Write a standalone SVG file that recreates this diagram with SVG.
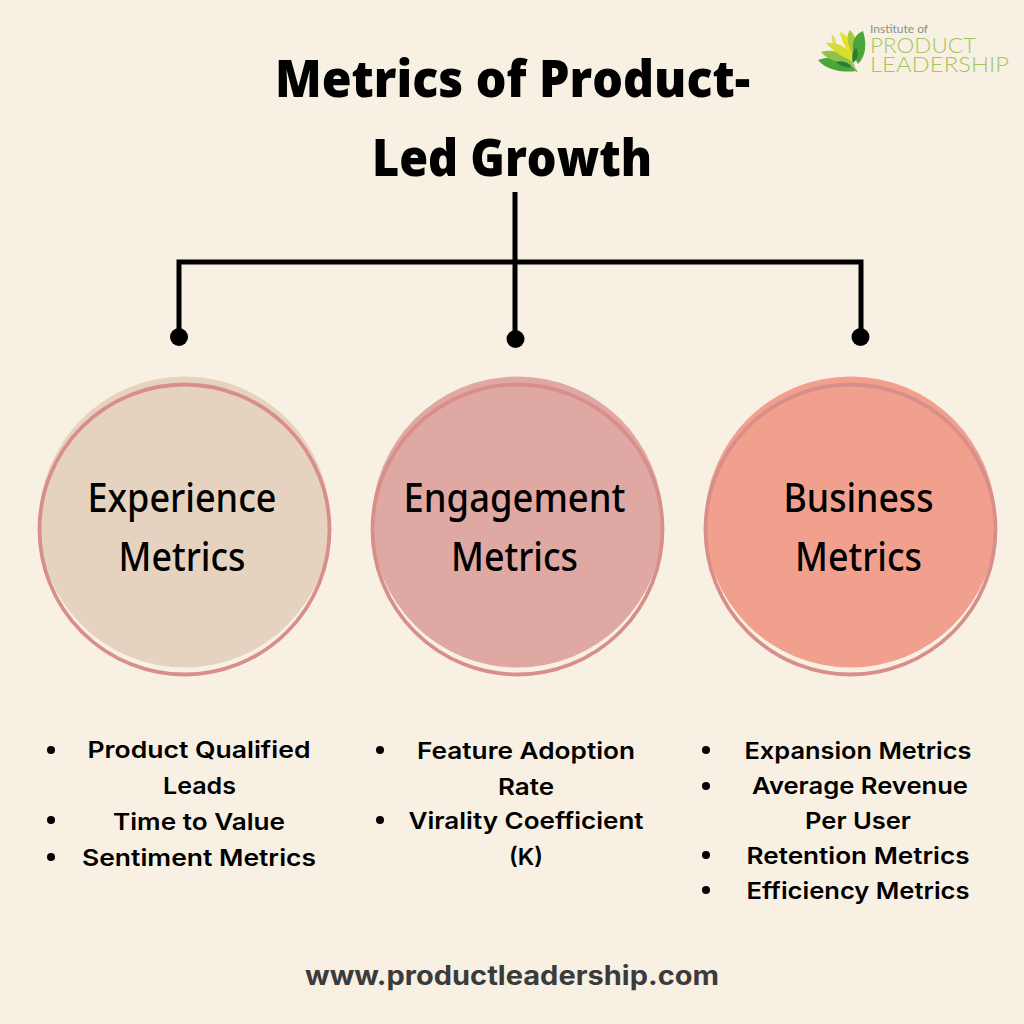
<svg xmlns="http://www.w3.org/2000/svg" width="1024" height="1024" viewBox="0 0 1024 1024">
<style>
text{text-anchor:middle}
.t{font:800 52px "Open Sans",sans-serif;fill:#000}
.h{font:500 39px "Noto Sans",sans-serif;fill:#000}
.b{font:600 23.500px "Inter",sans-serif;fill:#000}
.u{font:700 26.500px "Inter",sans-serif;fill:#3b3b3b}
.ring{fill:none;stroke:#d98f89;stroke-width:3.800}
.line{fill:none;stroke:#000;stroke-width:5}
.dot{fill:#000}
.bul{fill:#000}
.l1{font:400 12px "Lato",sans-serif;fill:#7f9488;text-anchor:start}
.l2{font:300 22px "Lato",sans-serif;fill:#a3c65c;text-anchor:start}
</style>
<rect width="1024" height="1024" fill="#f8f0e3"/>
<g id="title">
<text class="t" x="512.500" y="97" textLength="475" lengthAdjust="spacingAndGlyphs">Metrics of Product-</text>
<text class="t" x="512" y="176" textLength="280" lengthAdjust="spacingAndGlyphs">Led Growth</text>
</g>
<g id="logo">
<path d="M856 71C842 73 826 70 818 60C832 55 848 58 856 71Z" fill="#4aa63a"/>
<path d="M855 66C842 64 827 60 821 52C834 48 848 54 855 66Z" fill="#8fc24a"/>
<path d="M854 62C843 58 832 50 826 43C838 41 850 48 854 62Z" fill="#d8dc2e"/>
<path d="M835 46C832 42 831 38 832 35C835 37 837 41 835 46Z" fill="#d9dc5a"/>
<path d="M853 58C846 50 841 40 840 32C849 35 855 46 853 58Z" fill="#e6e02a"/>
<path d="M856 60C848 48 845 36 850 30C857 37 860 50 856 60Z" fill="#a9c940"/>
<path d="M858 64C850 50 851 36 863 31C867 44 866 56 858 64Z" fill="#4aa63a"/>
<path d="M852 67C846 68 840 66 836 62C842 60 848 62 852 67Z" fill="#2b7d33"/>
<path d="M853 63C851 55 853 50 856 48C859 53 858 59 853 63Z" fill="#2b7d33"/>
<path d="M853 66L857 72" stroke="#8fb84a" stroke-width="1.500"/>
<text class="l1" x="870" y="33" textLength="58" lengthAdjust="spacingAndGlyphs">Institute of</text>
<text class="l2" x="870" y="53" textLength="106" lengthAdjust="spacingAndGlyphs">PRODUCT</text>
<text class="l2" x="870" y="71.500" textLength="139" lengthAdjust="spacingAndGlyphs">LEADERSHIP</text>
</g>
<g id="connectors">
<path class="line" d="M515 192V337M179 337V262H861V337"/>
<circle class="dot" cx="179" cy="337" r="9"/>
<circle class="dot" cx="515.500" cy="339" r="9"/>
<circle class="dot" cx="860.500" cy="337" r="9"/>
</g>
<g id="experience">
<circle cx="184.500" cy="522" r="145.500" fill="#e5d3bf"/>
<circle class="ring" cx="184.500" cy="529.500" r="145"/>
<text class="h" x="182" y="512" textLength="189" lengthAdjust="spacingAndGlyphs">Experience</text>
<text class="h" x="182" y="571" textLength="127" lengthAdjust="spacingAndGlyphs">Metrics</text>
</g>
<g id="engagement">
<circle cx="517.500" cy="522" r="145.500" fill="#dfa8a3"/>
<circle class="ring" cx="517.500" cy="529.500" r="145"/>
<text class="h" x="514.500" y="512" textLength="222" lengthAdjust="spacingAndGlyphs">Engagement</text>
<text class="h" x="514.500" y="571" textLength="127" lengthAdjust="spacingAndGlyphs">Metrics</text>
</g>
<g id="business">
<circle cx="850.500" cy="522" r="145.500" fill="#f2a08e"/>
<circle class="ring" cx="850.500" cy="529.500" r="145"/>
<text class="h" x="858.500" y="512" textLength="150" lengthAdjust="spacingAndGlyphs">Business</text>
<text class="h" x="858.500" y="571" textLength="127" lengthAdjust="spacingAndGlyphs">Metrics</text>
</g>
<g id="list-experience">
<circle class="bul" cx="51" cy="750" r="4"/>
<circle class="bul" cx="51" cy="820" r="4"/>
<circle class="bul" cx="51" cy="857" r="4"/>
<text class="b" x="199" y="758" textLength="223" lengthAdjust="spacingAndGlyphs">Product Qualified</text>
<text class="b" x="199.500" y="794" textLength="73" lengthAdjust="spacingAndGlyphs">Leads</text>
<text class="b" x="199" y="830" textLength="172" lengthAdjust="spacingAndGlyphs">Time to Value</text>
<text class="b" x="199" y="866" textLength="234" lengthAdjust="spacingAndGlyphs">Sentiment Metrics</text>
</g>
<g id="list-engagement">
<circle class="bul" cx="380" cy="750" r="4"/>
<circle class="bul" cx="380" cy="820" r="4"/>
<text class="b" x="526" y="759" textLength="218" lengthAdjust="spacingAndGlyphs">Feature Adoption</text>
<text class="b" x="526" y="795" textLength="56" lengthAdjust="spacingAndGlyphs">Rate</text>
<text class="b" x="526" y="829" textLength="235" lengthAdjust="spacingAndGlyphs">Virality Coefficient</text>
<text class="b" x="526" y="865" textLength="34" lengthAdjust="spacingAndGlyphs">(K)</text>
</g>
<g id="list-business">
<circle class="bul" cx="706" cy="750" r="4"/>
<circle class="bul" cx="706" cy="786" r="4"/>
<circle class="bul" cx="706" cy="855" r="4"/>
<circle class="bul" cx="706" cy="890" r="4"/>
<text class="b" x="858" y="759" textLength="227" lengthAdjust="spacingAndGlyphs">Expansion Metrics</text>
<text class="b" x="860" y="794" textLength="216" lengthAdjust="spacingAndGlyphs">Average Revenue</text>
<text class="b" x="858" y="829" textLength="106" lengthAdjust="spacingAndGlyphs">Per User</text>
<text class="b" x="858" y="864" textLength="223" lengthAdjust="spacingAndGlyphs">Retention Metrics</text>
<text class="b" x="858" y="899" textLength="223" lengthAdjust="spacingAndGlyphs">Efficiency Metrics</text>
</g>
<g id="footer">
<text class="u" x="512" y="985" textLength="414" lengthAdjust="spacingAndGlyphs">www.productleadership.com</text>
</g>
</svg>
